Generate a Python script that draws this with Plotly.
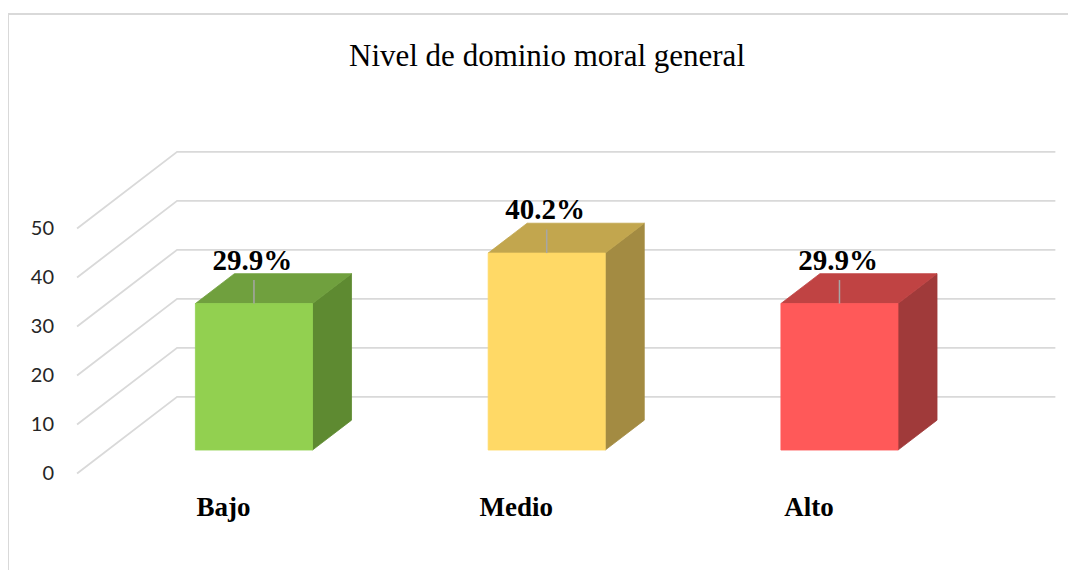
import plotly.graph_objects as go

# ---- data ----
categories = ["Bajo", "Medio", "Alto"]
values = [29.9, 40.2, 29.9]
y_ticks = [0, 10, 20, 30, 40, 50]
front_colors = ["#92D050", "#FFD966", "#FF5959"]
top_colors = ["#70A03E", "#C2A64E", "#C04343"]
side_colors = ["#5E8A31", "#A38B42", "#A03A3A"]

# ---- oblique projection (depth 0 = back wall, 1 = front) ----
DX = -0.3417   # category units shift for full depth
DY = -15.64    # value units shift for full depth
D_FRONT, D_BACK = 0.695, 0.305
HALF_W = 0.2

OFF = 8  # page body margin
W, H = 1076 - OFF, 570 - OFF
ML, MR, MT, MB = 60 - OFF, 6, 142 - OFF, 85
XR = [-0.4, 3.05]
YR = [-18, 52]
PW, PH = W - ML - MR, H - MT - MB


def px_to_paper_x(px):
    return (px - OFF - ML) / PW


def px_to_paper_y(py):
    return (H - MB - (py - OFF)) / PH


fig = go.Figure()
GRID = "#d9d9d9"

# gridlines: front diagonal + back wall line
for v in y_ticks:
    fig.add_trace(go.Scatter(
        x=[DX, 0, 3], y=[v + DY, v, v], mode="lines",
        line=dict(color=GRID, width=1.8), hoverinfo="skip", showlegend=False))

# bars
for i, (cat, v) in enumerate(zip(categories, values)):
    c = i + 0.5
    xf0, xf1 = c - HALF_W + DX * D_FRONT, c + HALF_W + DX * D_FRONT
    xb0, xb1 = c - HALF_W + DX * D_BACK, c + HALF_W + DX * D_BACK
    yf0, yf1 = DY * D_FRONT, v + DY * D_FRONT
    yb0, yb1 = DY * D_BACK, v + DY * D_BACK
    # side face
    fig.add_trace(go.Scatter(
        x=[xf1, xf1, xb1, xb1, xf1], y=[yf0, yf1, yb1, yb0, yf0],
        mode="lines", fill="toself", fillcolor=side_colors[i],
        line=dict(color=side_colors[i], width=0.8), hoverinfo="skip", showlegend=False))
    # top face
    fig.add_trace(go.Scatter(
        x=[xf0, xf1, xb1, xb0, xf0], y=[yf1, yf1, yb1, yb1, yf1],
        mode="lines", fill="toself", fillcolor=top_colors[i],
        line=dict(color=top_colors[i], width=0.8), hoverinfo="skip", showlegend=False))
    # front face
    fig.add_trace(go.Scatter(
        x=[xf0, xf1, xf1, xf0, xf0], y=[yf0, yf0, yf1, yf1, yf0],
        mode="lines", fill="toself", fillcolor=front_colors[i],
        line=dict(color=front_colors[i], width=0.8), hoverinfo="skip", showlegend=False))
    # leader line
    xc = c + DX * D_FRONT
    fig.add_trace(go.Scatter(
        x=[xc, xc], y=[yf1, yf1 + 4.8], mode="lines",
        line=dict(color="#a6a6a6", width=1.5), hoverinfo="skip", showlegend=False))
    # value label
    fig.add_trace(go.Scatter(
        x=[xc - 0.005], y=[yf1 + 8.4], mode="text", text=[f"<b>{v:.1f}%</b>"],
        textposition="middle center", cliponaxis=False,
        textfont=dict(family="Liberation Serif", size=29, color="#000000"),
        hoverinfo="skip", showlegend=False))

# border of chart area
fig.add_shape(type="line", xref="paper", yref="paper",
              x0=px_to_paper_x(8), x1=px_to_paper_x(8),
              y0=px_to_paper_y(14), y1=px_to_paper_y(580),
              line=dict(color=GRID, width=2))
fig.add_shape(type="line", xref="paper", yref="paper",
              x0=px_to_paper_x(8), x1=px_to_paper_x(1090),
              y0=px_to_paper_y(14), y1=px_to_paper_y(14),
              line=dict(color=GRID, width=2))

fig.update_layout(
    width=W, height=H,
    margin=dict(l=ML, r=MR, t=MT, b=MB, pad=0),
    paper_bgcolor="white", plot_bgcolor="white",
    showlegend=False,
    title=dict(text="Nivel de dominio moral general", xref="container", yref="container",
               x=(547 - OFF) / W, y=1 - (55 - OFF) / H, xanchor="center", yanchor="middle",
               font=dict(family="Liberation Serif", size=31, color="#000000")),
    xaxis=dict(range=XR, showgrid=False, zeroline=False, showline=False,
               tickmode="array",
               tickvals=[i + 0.5 + DX for i in range(len(categories))],
               ticktext=[f"<b>{c}</b>" for c in categories],
               tickfont=dict(family="Liberation Serif", size=27, color="#000000"),
               ticks="", ticklabelstandoff=3),
    yaxis=dict(range=YR, showgrid=False, zeroline=False, showline=False,
               tickmode="array",
               tickvals=[v + DY for v in y_ticks],
               ticktext=[str(v) for v in y_ticks],
               tickfont=dict(family="Lato", size=20, color="#262626"),
               ticks="", ticklabelstandoff=5),
)

fig.write_html("out.html")
